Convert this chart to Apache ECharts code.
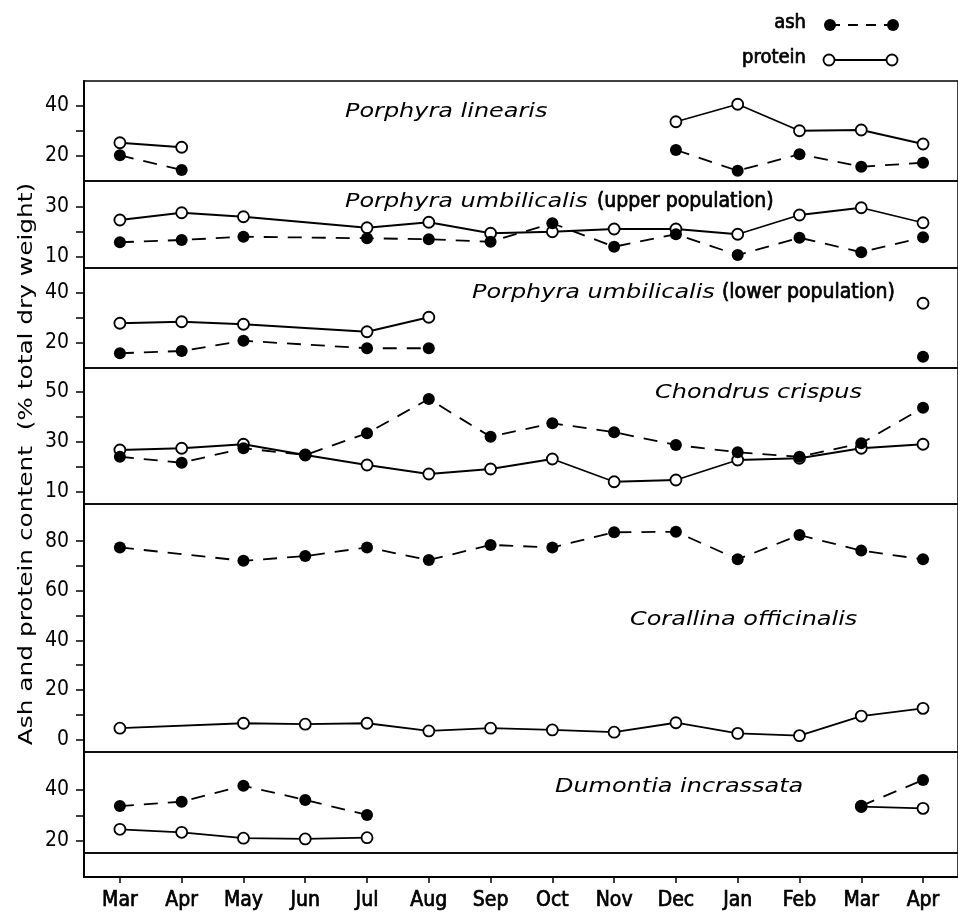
<!DOCTYPE html>
<html>
<head>
<meta charset="utf-8">
<script src="https://cdn.jsdelivr.net/npm/echarts@6/dist/echarts.min.js"></script>
<style>html,body{margin:0;padding:0;background:#fff;}#c{width:958px;height:917px;}</style>
</head>
<body>
<div id="c"></div>
<script>
const months = ['Mar','Apr','May','Jun','Jul','Aug','Sep','Oct','Nov','Dec','Jan','Feb','Mar','Apr'];

const linearisAsh      = [20.3, 14.4, null, null, null, null, null, null, null, 22.4, 14.1, 20.7, 15.7, 17.3];
const linearisProtein  = [25.3, 23.5, null, null, null, null, null, null, null, 33.7, 40.7, 30.1, 30.4, 24.8];
const upperAsh         = [15.9, 16.8, 18.1, null, 17.5, 17.1, 16.1, 23.5, 14.1, 19.1, 10.8, 17.7, 11.9, 17.9];
const upperProtein     = [24.8, 27.7, 26.1, null, 21.7, 23.9, 19.5, 20.1, 21.2, 21.2, 19.1, 26.8, 29.7, 23.7];
const lowerAsh         = [15.9, 16.8, 20.9, null, 17.9, 17.9, null, null, null, null, null, null, null, 14.5];
const lowerProtein     = [27.9, 28.5, 27.5, null, 24.5, 30.3, null, null, null, null, null, null, null, 35.9];
const chondrusAsh      = [24.1, 21.7, 27.5, 24.8, 33.5, 47.2, 32.1, 37.5, 33.9, 28.8, 25.9, 24.1, 29.5, 43.7];
const chondrusProtein  = [26.8, 27.5, 29.1, 24.8, 20.8, 17.2, 19.2, 23.2, 14.1, 14.8, 22.8, 23.5, 27.5, 29.1];
const corallinaAsh     = [77.5, null, 72.1, 74.0, 77.5, 72.4, 78.5, 77.5, 83.6, 83.8, 72.7, 82.5, 76.2, 72.7];
const corallinaProtein = [4.6, null, 6.6, 6.2, 6.6, 3.5, 4.6, 3.9, 3.0, 6.8, 2.5, 1.6, 9.5, 12.6];
const dumontiaAsh      = [33.7, 35.4, 41.7, 36.1, 30.2, null, null, null, null, null, null, null, 33.8, 43.9];
const dumontiaProtein  = [24.6, 23.4, 21.1, 20.8, 21.3, null, null, null, null, null, null, null, 33.5, 32.8];

const panelSpecies = ['Porphyra linearis','Porphyra umbilicalis','Porphyra umbilicalis','Chondrus crispus','Corallina officinalis','Dumontia incrassata'];
const panelNotes   = ['', '(upper population)', '(lower population)', '', '', ''];
const panelAsh = [linearisAsh, upperAsh, lowerAsh, chondrusAsh, corallinaAsh, dumontiaAsh];
const panelProtein = [linearisProtein, upperProtein, lowerProtein, chondrusProtein, corallinaProtein, dumontiaProtein];
const yLabels = [[20,40],[10,30],[20,40],[10,30,50],[0,20,40,60,80],[20,40]];
const yTicks  = [[20,30,40],[10,20,30],[20,30,40],[10,20,30,40,50],[0,10,20,30,40,50,60,70,80],[20,30,40]];

// layout
const panels = [
  {top:81,  height:100, min:10,  max:50},
  {top:181, height:87,  min:5.6, max:40.4},
  {top:268, height:100, min:10,  max:50},
  {top:368, height:136, min:5.2, max:59.6},
  {top:504, height:248, min:-5,  max:95},
  {top:752, height:101, min:15.3,max:54.9}
];
const labelPos = [[345,112],[345,202],[472,293],[655,393],[630,620],[555,787]];
const notePos  = [0, 597, 722, 0, 0, 0];

const condFont = '"DejaVu Sans Condensed","DejaVu Sans",sans-serif';
const XMIN = -0.581, XMAX = 13.566;

function toData(arr){
  const out=[];
  for(let i=0;i<arr.length;i++){
    if(arr[i]!=null) out.push([i,arr[i]]);
    else {
      const longGap = (i>0 && arr[i-1]==null) || (i<arr.length-1 && arr[i+1]==null);
      if(longGap) out.push([i,null]);
    }
  }
  return out;
}

const grids=[], xAxes=[], yAxes=[], series=[];
panels.forEach((p,k)=>{
  grids.push({left:84, right:-2, top:p.top, height:p.height, show:true, borderColor:'#000', borderWidth:1.5, backgroundColor:'transparent'});
  xAxes.push({type:'value', gridIndex:k, min:XMIN, max:XMAX, show:false});
  yAxes.push({type:'value', gridIndex:k, min:p.min, max:p.max,
    splitLine:{show:false},
    axisLine:{show:true, onZero:false, lineStyle:{color:'#000', width:2}},
    axisTick:{show:true, length:8, customValues:yTicks[k], lineStyle:{color:'#000', width:1.5}},
    axisLabel:{customValues:yLabels[k], color:'#000', fontSize:21, margin:15, fontFamily:condFont}
  });
  series.push({type:'line', xAxisIndex:k, yAxisIndex:k, data:toData(panelProtein[k]),
    symbol:'circle', symbolSize:11, connectNulls:false,
    lineStyle:{color:'#000', width:1.8, type:'solid'},
    itemStyle:{color:'#fff', borderColor:'#000', borderWidth:1.8}, animation:false, silent:true});
  series.push({type:'line', xAxisIndex:k, yAxisIndex:k, data:toData(panelAsh[k]),
    symbol:'circle', symbolSize:12, connectNulls:false,
    lineStyle:{color:'#000', width:1.8, type:[14,10]},
    itemStyle:{color:'#000', borderColor:'#000', borderWidth:0}, animation:false, silent:true});
});
// bottom strip carrying month axis
grids.push({left:84, right:-2, top:853, height:24, show:true, borderColor:'#000', borderWidth:1.5, backgroundColor:'transparent'});
xAxes.push({type:'value', gridIndex:6, min:XMIN, max:XMAX, splitLine:{show:false},
  axisLine:{show:true, onZero:false, lineStyle:{color:'#000', width:2}},
  axisTick:{show:true, length:6, customValues:months.map((m,i)=>i), lineStyle:{color:'#000', width:1.5}},
  axisLabel:{customValues:months.map((m,i)=>i), formatter:(v)=>months[Math.round(v)], color:'#000', fontSize:21, margin:13, fontFamily:condFont,
    textBorderColor:'#000', textBorderWidth:0.7}
});
yAxes.push({type:'value', gridIndex:6, min:0, max:1, splitLine:{show:false}, axisLabel:{show:false}, axisTick:{show:false},
  axisLine:{show:true, onZero:false, lineStyle:{color:'#000', width:2}}});

const graphics = [];
panelSpecies.forEach((n,k)=>{
  graphics.push({type:'text', x:labelPos[k][0], y:labelPos[k][1], scaleX:1.26, silent:true,
    style:{text:n, verticalAlign:'middle', align:'left',
      fontFamily:'"DejaVu Sans",sans-serif', fontStyle:'italic', fontSize:19, fill:'#000'}});
  if(panelNotes[k]){
    graphics.push({type:'text', x:notePos[k], y:labelPos[k][1], silent:true,
      style:{text:panelNotes[k], verticalAlign:'middle', align:'left',
        fontFamily:condFont, fontSize:21, fill:'#000', stroke:'#000', lineWidth:0.7}});
  }
});
graphics.push({type:'text', x:27, y:464, rotation:Math.PI/2, scaleX:1.24, silent:true,
  style:{text:'Ash and protein content  (% total dry weight)', align:'center', verticalAlign:'middle',
    fontFamily:'"DejaVu Sans",sans-serif', fontSize:20, fill:'#000'}});
// legend key
graphics.push({type:'text', x:806, y:23, silent:true, style:{text:'ash', align:'right', verticalAlign:'middle', fontFamily:condFont, fontSize:20, fill:'#000', stroke:'#000', lineWidth:0.7}});
graphics.push({type:'line', silent:true, shape:{x1:830,y1:25,x2:893,y2:25}, style:{stroke:'#000', lineWidth:1.8, lineDash:[10,8]}});
graphics.push({type:'circle', silent:true, shape:{cx:830,cy:25,r:6}, style:{fill:'#000'}});
graphics.push({type:'circle', silent:true, shape:{cx:893,cy:25,r:6}, style:{fill:'#000'}});
graphics.push({type:'text', x:806, y:58, silent:true, style:{text:'protein', align:'right', verticalAlign:'middle', fontFamily:condFont, fontSize:20, fill:'#000', stroke:'#000', lineWidth:0.7}});
graphics.push({type:'line', silent:true, shape:{x1:829,y1:60,x2:892,y2:60}, style:{stroke:'#000', lineWidth:1.8}});
graphics.push({type:'circle', silent:true, z:10, shape:{cx:829,cy:60,r:5.5}, style:{fill:'#fff', stroke:'#000', lineWidth:1.8}});
graphics.push({type:'circle', silent:true, z:10, shape:{cx:892,cy:60,r:5.5}, style:{fill:'#fff', stroke:'#000', lineWidth:1.8}});

const chart = echarts.init(document.getElementById('c'), null, {renderer:'canvas'});
chart.setOption({
  animation:false,
  backgroundColor:'#fff',
  grid:grids, xAxis:xAxes, yAxis:yAxes, series:series, graphic:graphics
});
</script>
</body>
</html>
